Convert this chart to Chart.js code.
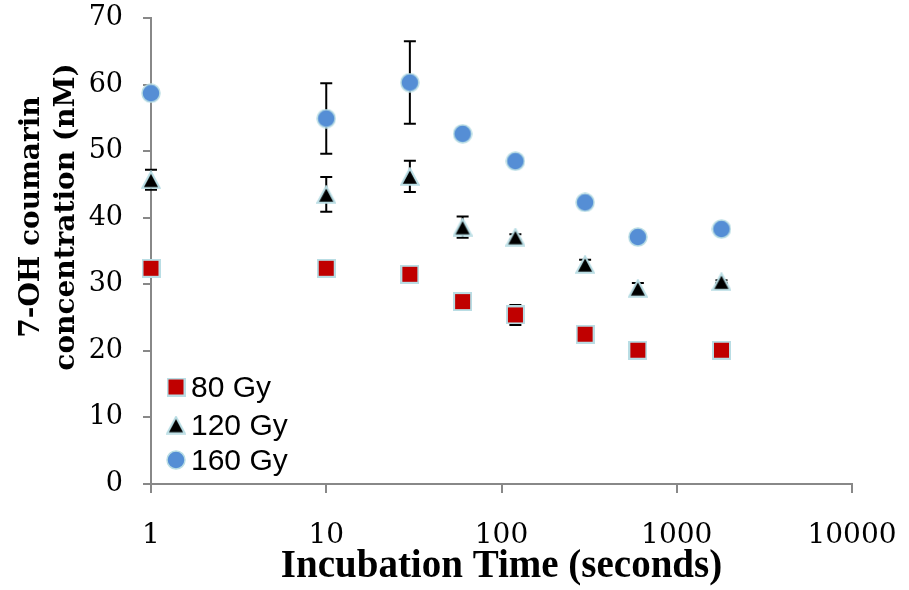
<!DOCTYPE html>
<html>
<head>
<meta charset="utf-8">
<script src="https://cdn.jsdelivr.net/npm/chart.js@4.4.0/dist/chart.umd.min.js"></script>
<style>
  body { margin: 0; background: #fff; }
  #wrap { width: 909px; height: 590px; }
</style>
</head>
<body>
<div id="wrap"><canvas id="chart" width="909" height="590"></canvas></div>
<script>
// values
const times = [1, 10, 30, 60, 120, 300, 600, 1800];
const gy80 = [32.4, 32.4, 31.5, 27.4, 25.4, 22.5, 20.1, 20.1];
const gy120 = [45.7, 43.5, 46.2, 38.6, 37.1, 33.0, 29.4, 30.4];
const gy160 = [58.7, 54.9, 60.3, 52.6, 48.5, 42.3, 37.1, 38.3];
const err80 = [0.3, 0.3, 0.3, 0.4, 1.5, 0.4, 0.3, 0.3];
const err120 = [1.5, 2.6, 2.35, 1.6, 0.4, 0.7, 0.8, 0.2];
const err160 = [0.5, 5.3, 6.2, 0.5, 0.5, 0.5, 0.5, 0.5];
const xTicks = [1, 10, 100, 1000, 10000];
const seriesNames = ['80 Gy', '120 Gy', '160 Gy'];
const yTitle = ['7-OH coumarin', 'concentration (nM)'];
const xTitle = 'Incubation Time (seconds)';

const edge = '#B9DDE4';

// marker images, centred on their bounding box like the original
function marker(kind) {
    const c = document.createElement('canvas');
    if (kind === 'square') { c.width = 19; c.height = 19; }
    else if (kind === 'triangle') { c.width = 20; c.height = 19; }
    else { c.width = 20; c.height = 20; }
    const g = c.getContext('2d');
    g.lineWidth = 2;
    g.strokeStyle = edge;
    if (kind === 'square') {
        g.fillStyle = '#C00000';
        g.fillRect(1, 1, 17, 17);
        g.strokeRect(1, 1, 17, 17);
    } else if (kind === 'triangle') {
        g.fillStyle = '#000';
        g.beginPath();
        g.moveTo(10, 1.5); g.lineTo(18.7, 17.8); g.lineTo(1.3, 17.8); g.closePath();
        g.fill(); g.stroke();
    } else {
        g.fillStyle = '#558ED5';
        g.lineWidth = 1.5;
        g.beginPath();
        g.arc(10, 10, 9, 0, Math.PI * 2);
        g.fill(); g.stroke();
    }
    return c;
}
const markers = [marker('square'), marker('triangle'), marker('circle')];

function toPoints(ys) {
    return times.map((t, i) => ({ x: t, y: ys[i] }));
}

const errorBars = {
    id: 'errorBars',
    beforeDatasetsDraw(chart) {
        const errs = [err80, err120, err160];
        const xs = chart.scales.x, ys = chart.scales.y;
        const ctx = chart.ctx;
        ctx.save();
        ctx.strokeStyle = '#000';
        ctx.lineWidth = 2;
        chart.data.datasets.forEach((ds, i) => {
            ds.data.forEach((p, j) => {
                const e = errs[i][j];
                const x = xs.getPixelForValue(p.x);
                const y1 = ys.getPixelForValue(p.y + e);
                const y2 = ys.getPixelForValue(p.y - e);
                ctx.beginPath();
                ctx.moveTo(x, y1); ctx.lineTo(x, y2);
                ctx.moveTo(x - 6, y1); ctx.lineTo(x + 6, y1);
                ctx.moveTo(x - 6, y2); ctx.lineTo(x + 6, y2);
                ctx.stroke();
            });
        });
        ctx.restore();
    }
};

const extras = {
    id: 'extras',
    afterDraw(chart) {
        const ctx = chart.ctx;
        ctx.save();
        // y title, two lines
        ctx.fillStyle = '#000';
        ctx.font = 'bold 28px "DejaVu Serif"';
        ctx.textAlign = 'center';
        ctx.textBaseline = 'middle';
        ctx.translate(32, 217);
        ctx.rotate(-Math.PI / 2);
        yTitle.forEach((line, i) => ctx.fillText(line, 0, i * 35));
        ctx.restore();

        // legend inside the plot
        ctx.save();
        const rows = [387, 425, 460];
        ctx.font = '30px "Liberation Sans"';
        ctx.fillStyle = '#000';
        ctx.textBaseline = 'alphabetic';
        seriesNames.forEach((name, i) => {
            const m = markers[i];
            ctx.drawImage(m, 176 - m.width / 2, rows[i] - m.height / 2);
            ctx.fillText(name, 191, rows[i] + 10);
        });
        ctx.restore();
    }
};

new Chart(document.getElementById('chart'), {
    type: 'scatter',
    data: {
        datasets: [
            { label: seriesNames[0], data: toPoints(gy80), pointStyle: markers[0], clip: false },
            { label: seriesNames[1], data: toPoints(gy120), pointStyle: markers[1], clip: false },
            { label: seriesNames[2], data: toPoints(gy160), pointStyle: markers[2], clip: false }
        ]
    },
    options: {
        responsive: false,
        animation: false,
        layout: { padding: { top: 18, right: 57, bottom: 0, left: 0 } },
        plugins: {
            legend: { display: false },
            tooltip: { enabled: false }
        },
        scales: {
            x: {
                type: 'logarithmic',
                min: 1,
                max: 10000,
                afterBuildTicks: axis => { axis.ticks = xTicks.map(v => ({ value: v })); },
                afterFit: s => { s.height = 106; s.paddingLeft = 0; s.paddingRight = 0; },
                ticks: {
                    callback: v => String(v),
                    autoSkip: false,
                    maxRotation: 0,
                    padding: 26,
                    color: '#000',
                    font: { family: 'DejaVu Serif', size: 28 }
                },
                grid: { drawOnChartArea: false, tickLength: 9, color: '#888', lineWidth: 2 },
                border: { color: '#888', width: 2 },
                title: {
                    display: true,
                    text: xTitle,
                    color: '#000',
                    padding: { top: 0, bottom: 0 },
                    font: { family: 'Liberation Serif', size: 39, weight: 'bold' }
                }
            },
            y: {
                min: 0,
                max: 70,
                afterFit: s => { s.width = 151; s.paddingTop = 0; s.paddingBottom = 0; },
                ticks: {
                    stepSize: 10,
                    padding: 20,
                    color: '#000',
                    font: { family: 'DejaVu Serif', size: 27 }
                },
                grid: { drawOnChartArea: false, tickLength: 8, color: '#888', lineWidth: 2 },
                border: { color: '#888', width: 2 }
            }
        }
    },
    plugins: [errorBars, extras]
});
</script>
</body>
</html>
